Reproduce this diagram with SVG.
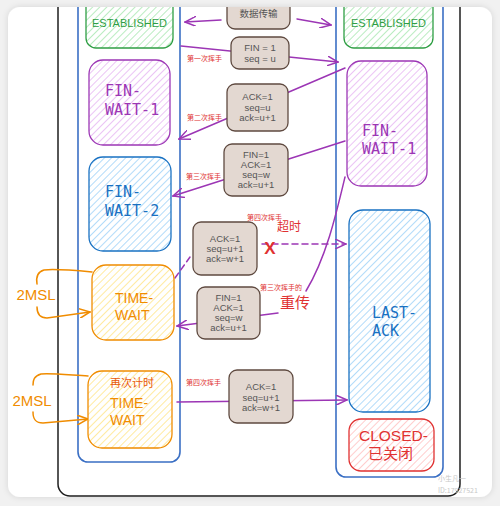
<svg xmlns="http://www.w3.org/2000/svg" width="500" height="506" viewBox="0 0 500 506">
<defs>
  <style>
    .mono{font-family:"DejaVu Sans Mono","Liberation Mono",monospace;font-size:15px}
    .sans{font-family:"Liberation Sans","Noto Sans CJK SC",sans-serif}
    .msg{fill:#e3d8d1;stroke:#5f4a40;stroke-width:1.3}
    .mt{font-family:"Liberation Sans","Noto Sans CJK SC",sans-serif;font-size:9.5px;fill:#555;text-anchor:middle}
    .lbl{font-family:"Noto Sans CJK SC",sans-serif;font-size:7px;fill:#e03131}
    .big{font-family:"Noto Sans CJK SC",sans-serif;fill:#e03131}
    .arr{fill:none;stroke:#9c36b5;stroke-width:1.5;stroke-linecap:round}
    .org{fill:none;stroke:#f08c00;stroke-width:1.5;stroke-linecap:round}
    .col{fill:none;stroke:#3a6fc4;stroke-width:1.6}
  </style>
  <pattern id="hg" width="5" height="5" patternUnits="userSpaceOnUse" patternTransform="rotate(45)"><rect width="5" height="5" fill="#fff"/><line x1="0" y1="0" x2="0" y2="5" stroke="#a3e6ad" stroke-width="1.5"/></pattern>
  <pattern id="hp" width="5" height="5" patternUnits="userSpaceOnUse" patternTransform="rotate(45)"><rect width="5" height="5" fill="#fff"/><line x1="0" y1="0" x2="0" y2="5" stroke="#e5b0f2" stroke-width="1.5"/></pattern>
  <pattern id="hb" width="5" height="5" patternUnits="userSpaceOnUse" patternTransform="rotate(45)"><rect width="5" height="5" fill="#fff"/><line x1="0" y1="0" x2="0" y2="5" stroke="#99cff8" stroke-width="1.5"/></pattern>
  <pattern id="ho" width="5" height="5" patternUnits="userSpaceOnUse" patternTransform="rotate(45)"><rect width="5" height="5" fill="#fff"/><line x1="0" y1="0" x2="0" y2="5" stroke="#ffe380" stroke-width="1.5"/></pattern>
  <pattern id="hr" width="5" height="5" patternUnits="userSpaceOnUse" patternTransform="rotate(45)"><rect width="5" height="5" fill="#fff"/><line x1="0" y1="0" x2="0" y2="5" stroke="#ffbcbc" stroke-width="1.5"/></pattern>
  <marker id="ap" viewBox="0 0 12 10" refX="11" refY="5" markerWidth="12" markerHeight="10" markerUnits="userSpaceOnUse" orient="auto"><path d="M0,0 L11,5 L0,10" fill="none" stroke="#9c36b5" stroke-width="1.5" stroke-linecap="round"/></marker>
  <marker id="ao" viewBox="0 0 12 10" refX="11" refY="5" markerWidth="12" markerHeight="10" markerUnits="userSpaceOnUse" orient="auto"><path d="M0,0 L11,5 L0,10" fill="none" stroke="#f08c00" stroke-width="1.5" stroke-linecap="round"/></marker>
  <clipPath id="card"><rect x="8" y="7" width="484" height="490" rx="12"/></clipPath>
  <filter id="sh" x="-5%" y="-5%" width="110%" height="110%"><feDropShadow dx="0" dy="0" stdDeviation="3" flood-color="#000" flood-opacity="0.12"/></filter>
</defs>
<rect width="500" height="506" fill="#f1f1f1"/>
<rect x="8" y="7" width="484" height="490" rx="12" fill="#fff" filter="url(#sh)"/>
<g clip-path="url(#card)">
  <g id="frame">
    <rect x="58" y="-20" width="402" height="516" rx="12" fill="none" stroke="#1e1e1e" stroke-width="1.5"/>
    <rect class="col" x="78" y="-20" width="102" height="482" rx="10"/>
    <rect class="col" x="336" y="-20" width="107" height="497" rx="10"/>
  </g>
  <g id="connectors">
    <path class="arr" d="M221,20 L185,22" marker-end="url(#ap)"/>
    <path class="arr" d="M297,19 L331,25" marker-end="url(#ap)"/>
    <path class="arr" d="M181,46 L338,62" marker-end="url(#ap)"/>
    <path class="arr" d="M345,68 L179,139" marker-end="url(#ap)"/>
    <path class="arr" d="M345,141 L173,196" marker-end="url(#ap)"/>
    <path class="arr" d="M262,244 L346,244" stroke-dasharray="6 4" marker-end="url(#ap)"/>
    <path class="arr" d="M175,278 L190,257" stroke-dasharray="6 4"/>
    <path class="arr" d="M345,177 C336,215 326,258 306,291"/>
    <path class="arr" d="M278,313 L177,326" marker-end="url(#ap)"/>
    <path class="arr" d="M177,402 L347,400" marker-end="url(#ap)"/>
    <path class="org" d="M92,272 C70,270 52,269 44,270 C37,272 36,278 37,284"/>
    <path class="org" d="M37,307 C37,314 40,318 47,318 L90,312" marker-end="url(#ao)"/>
    <path class="org" d="M88,376 C70,375 50,373 41,374 C34,376 33,380 33,385"/>
    <path class="org" d="M33,412 C33,420 36,423 43,423 L88,419" marker-end="url(#ao)"/>
  </g>
  <g id="est-left"><rect x="86" y="-10" width="87" height="58" rx="10" fill="url(#hg)" stroke="#2f9e44" stroke-width="1.3"/><text class="sans" x="129.5" y="27" font-size="11" fill="#2f9e44" text-anchor="middle">ESTABLISHED</text></g>
  <g id="est-right"><rect x="344" y="-10" width="89" height="58" rx="10" fill="url(#hg)" stroke="#2f9e44" stroke-width="1.3"/><text class="sans" x="388.5" y="27" font-size="11" fill="#2f9e44" text-anchor="middle">ESTABLISHED</text></g>
  <g id="fw1-left"><rect x="89" y="60" width="81" height="85" rx="14" fill="url(#hp)" stroke="#9c36b5" stroke-width="1.3"/><text class="mono" x="105" y="96" fill="#9c36b5">FIN-</text><text class="mono" x="105" y="115" fill="#9c36b5">WAIT-1</text></g>
  <g id="fw1-right"><rect x="347" y="61" width="80" height="125" rx="14" fill="url(#hp)" stroke="#9c36b5" stroke-width="1.3"/><text class="mono" x="362" y="136" fill="#9c36b5">FIN-</text><text class="mono" x="362" y="154" fill="#9c36b5">WAIT-1</text></g>
  <g id="fw2-left"><rect x="89" y="157" width="82" height="94" rx="14" fill="url(#hb)" stroke="#1971c2" stroke-width="1.3"/><text class="mono" x="105" y="197" fill="#1971c2">FIN-</text><text class="mono" x="105" y="216" fill="#1971c2">WAIT-2</text></g>
  <g id="last-ack"><rect x="349" y="210" width="81" height="202" rx="14" fill="url(#hb)" stroke="#1971c2" stroke-width="1.3"/><text class="mono" x="372" y="318" fill="#1971c2">LAST-</text><text class="mono" x="372" y="336" fill="#1971c2">ACK</text></g>
  <g id="time-wait-1"><rect x="92" y="265" width="82" height="75" rx="14" fill="url(#ho)" stroke="#f08c00" stroke-width="1.3"/><text class="sans" x="115" y="303" font-size="14" fill="#f08c00">TIME-</text><text class="sans" x="115" y="320" font-size="14" fill="#f08c00">WAIT</text></g>
  <g id="time-wait-2"><rect x="88" y="371" width="84" height="77" rx="14" fill="url(#ho)" stroke="#f08c00" stroke-width="1.3"/><text class="sans" x="110" y="387" font-size="11" fill="#e8590c">再次计时</text><text class="sans" x="110" y="408" font-size="14" fill="#f08c00">TIME-</text><text class="sans" x="110" y="425" font-size="14" fill="#f08c00">WAIT</text></g>
  <g id="closed"><rect x="349" y="419" width="85" height="52" rx="12" fill="url(#hr)" stroke="#e03131" stroke-width="1.3"/><text class="sans" x="359" y="441" font-size="15.5" fill="#e03131">CLOSED-</text><text class="sans" x="368" y="459" font-size="15" fill="#e03131">已关闭</text></g>
  <g id="msg-data"><rect class="msg" x="227" y="-10" width="63" height="39" rx="8"/><text class="mt" x="258.5" y="17">数据传输</text></g>
  <g id="msg-fin1"><rect class="msg" x="231" y="37" width="58" height="32" rx="8"/><text class="mt" x="260" y="50.5">FIN = 1</text><text class="mt" x="260" y="61.5">seq = u</text></g>
  <g id="msg-ack2"><rect class="msg" x="227" y="84" width="61" height="47" rx="8"/><text class="mt" x="257.5" y="100">ACK=1</text><text class="mt" x="257.5" y="110.5">seq=u</text><text class="mt" x="257.5" y="121">ack=u+1</text></g>
  <g id="msg-fin3"><rect class="msg" x="224" y="144" width="64" height="52" rx="8"/><text class="mt" x="256" y="157.5">FIN=1</text><text class="mt" x="256" y="168">ACK=1</text><text class="mt" x="256" y="178">seq=w</text><text class="mt" x="256" y="188">ack=u+1</text></g>
  <g id="msg-ack4-lost"><rect class="msg" x="193" y="222" width="64" height="53" rx="8"/><text class="mt" x="225" y="241.5">ACK=1</text><text class="mt" x="225" y="251.5">seq=u+1</text><text class="mt" x="225" y="261.5">ack=w+1</text></g>
  <g id="msg-fin3-retx"><rect class="msg" x="197" y="287" width="63" height="52" rx="8"/><text class="mt" x="228.5" y="300.5">FIN=1</text><text class="mt" x="228.5" y="310.5">ACK=1</text><text class="mt" x="228.5" y="320.5">seq=w</text><text class="mt" x="228.5" y="330.5">ack=u+1</text></g>
  <g id="msg-ack4"><rect class="msg" x="229" y="370" width="64" height="53" rx="8"/><text class="mt" x="261" y="389.5">ACK=1</text><text class="mt" x="261" y="400.5">seq=u+1</text><text class="mt" x="261" y="410.5">ack=w+1</text></g>
  <g id="labels">
    <text class="lbl" x="187" y="60.5">第一次挥手</text>
    <text class="lbl" x="187" y="119.5">第二次挥手</text>
    <text class="lbl" x="186" y="178.5">第三次挥手</text>
    <text class="lbl" x="247" y="219.5">第四次挥手</text>
    <text class="big" x="277" y="231" style="font-size:12px">超时</text>
    <text x="270" y="254" font-family="Liberation Sans,sans-serif" font-size="17" font-weight="bold" fill="#e03131" text-anchor="middle">X</text>
    <text class="lbl" x="260" y="289.5">第三次挥手的</text>
    <text class="big" x="280" y="308" style="font-size:15px">重传</text>
    <text class="lbl" x="186" y="384.5">第四次挥手</text>
    <text class="sans" x="36" y="299.5" font-size="15" fill="#f08c00" text-anchor="middle">2MSL</text>
    <text class="sans" x="32" y="405.5" font-size="15" fill="#f08c00" text-anchor="middle">2MSL</text>
  </g>
  <g id="watermark" fill="#c8c8c8" font-family="Noto Sans CJK SC,sans-serif" font-size="7">
    <text x="438" y="481">小生凡一</text>
    <text x="438" y="493">ID:17927521</text>
  </g>
</g>
</svg>
